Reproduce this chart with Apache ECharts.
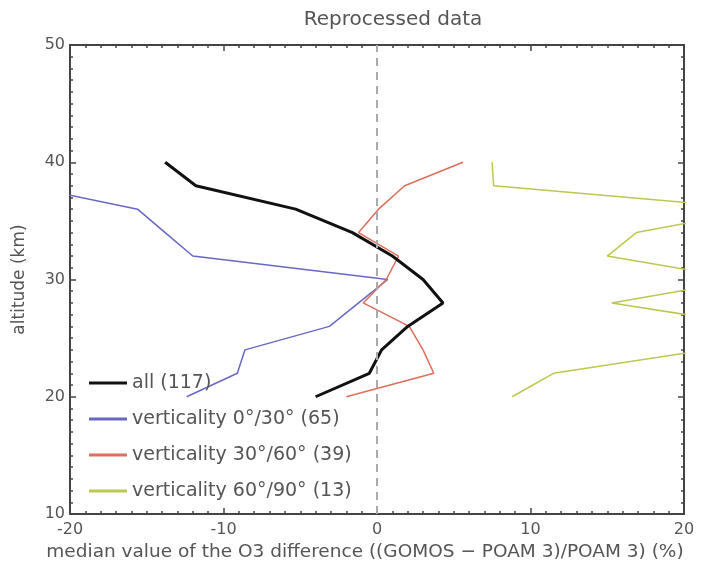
<!DOCTYPE html>
<html>
<head>
<meta charset="utf-8">
<script src="https://cdn.jsdelivr.net/npm/echarts@6/dist/echarts.min.js"></script>
<style>
  html, body { margin: 0; padding: 0; background: #fff; }
  #chart { width: 718px; height: 564px; }
</style>
</head>
<body>
<div id="chart"></div>
<script>
// altitude levels (km) shared by all profiles
const altitudes = [20, 22, 24, 26, 28, 30, 32, 34, 36, 38, 40]

// median O3 difference (%) at each altitude
const allValues = [-4.0, -0.5, 0.3, 2.0, 4.3, 3.0, 1.0, -1.6, -5.3, -11.8, -13.8]
const vert0to30 = [-12.4, -9.1, -8.6, -3.1, -1.2, 0.7, -12.0, -13.8, -15.6, -23.0]
const vert30to60 = [-2.0, 3.7, 3.0, 2.1, -0.9, 0.6, 1.4, -1.2, 0.1, 1.8, 5.6]
const vert60to90 = [8.8, 11.5, 21.5, 25.0, 15.3, 24.0, 15.0, 16.9, 25.0, 7.6, 7.5]

const seriesNames = [
    'all (117)',
    'verticality 0°/30° (65)',
    'verticality 30°/60° (39)',
    'verticality 60°/90° (13)'
]

const xTicks = [-20, -10, 0, 10, 20]
const yTicks = [10, 20, 30, 40, 50]

function toPairs(values) {
    return values.map((v, i) => [v, altitudes[i]])
}

const font = 'DejaVu Sans'
const gray = '#555'
const axisColor = '#444'

function boxAxis(extra) {
    return Object.assign({
        type: 'value',
        splitLine: { show: false },
        axisLine: { show: true, onZero: false, lineStyle: { color: axisColor, width: 2 } },
        axisTick: { show: true, inside: true, length: 6, lineStyle: { color: axisColor, width: 1.5 } },
        minorTick: { show: true, splitNumber: 10, length: 3, lineStyle: { color: axisColor, width: 1.5 } },
        minorSplitLine: { show: false }
    }, extra)
}

const chart = echarts.init(document.getElementById('chart'))
const option = {
    backgroundColor: '#fff',
    animation: false,
    title: {
        text: 'Reprocessed data',
        left: 388,
        textAlign: 'center',
        top: 5,
        textStyle: { fontFamily: font, fontWeight: 'normal', fontSize: 20, color: gray }
    },
    legend: {
        orient: 'vertical',
        left: 84,
        top: 368,
        itemWidth: 38,
        itemHeight: 3,
        itemGap: 16,
        icon: 'rect',
        textStyle: { fontFamily: font, fontSize: 19, color: gray, lineHeight: 20, height: 20 },
        data: seriesNames
    },
    grid: { left: 70, right: 34, top: 45, bottom: 50, outerBoundsMode: 'none', containLabel: false },
    xAxis: [
        boxAxis({
            min: xTicks[0], max: xTicks[xTicks.length - 1], interval: 10,
            position: 'bottom',
            name: 'median value of the O3 difference ((GOMOS \u2212 POAM 3)/POAM 3) (%)',
            nameLocation: 'middle',
            nameGap: 29,
            nameTextStyle: { fontFamily: font, fontSize: 18.5, color: gray, padding: [0, 24, 0, 0] },
            axisLabel: { fontFamily: font, fontSize: 16, color: gray, margin: 8 }
        }),
        boxAxis({
            min: xTicks[0], max: xTicks[xTicks.length - 1], interval: 10,
            position: 'top',
            axisLabel: { show: false }
        })
    ],
    yAxis: [
        boxAxis({
            min: yTicks[0], max: yTicks[yTicks.length - 1], interval: 10,
            position: 'left',
            name: 'altitude (km)',
            nameLocation: 'middle',
            nameGap: 42,
            nameTextStyle: { fontFamily: font, fontSize: 17, color: gray },
            axisLabel: { fontFamily: font, fontSize: 16, color: gray, margin: 5 }
        }),
        boxAxis({
            min: yTicks[0], max: yTicks[yTicks.length - 1], interval: 10,
            position: 'right',
            axisLabel: { show: false }
        })
    ],
    series: [
        {
            name: 'zero',
            type: 'line',
            data: [],
            silent: true,
            markLine: {
                symbol: 'none',
                silent: true,
                label: { show: false },
                lineStyle: { color: '#aaa', type: [8, 6], width: 2 },
                data: [{ xAxis: 0 }]
            }
        },
        {
            name: seriesNames[1],
            type: 'line',
            symbol: 'none',
            color: '#6868c4',
            lineStyle: { width: 1.5 },
            data: toPairs(vert0to30)
        },
        {
            name: seriesNames[2],
            type: 'line',
            symbol: 'none',
            color: '#dc6e5a',
            lineStyle: { width: 1.5 },
            data: toPairs(vert30to60)
        },
        {
            name: seriesNames[3],
            type: 'line',
            symbol: 'none',
            color: '#bcc850',
            lineStyle: { width: 1.5 },
            data: toPairs(vert60to90)
        },
        {
            name: seriesNames[0],
            type: 'line',
            symbol: 'none',
            color: '#111',
            lineStyle: { width: 3 },
            data: toPairs(allValues)
        }
    ]
}
option && chart.setOption(option)
</script>
</body>
</html>
